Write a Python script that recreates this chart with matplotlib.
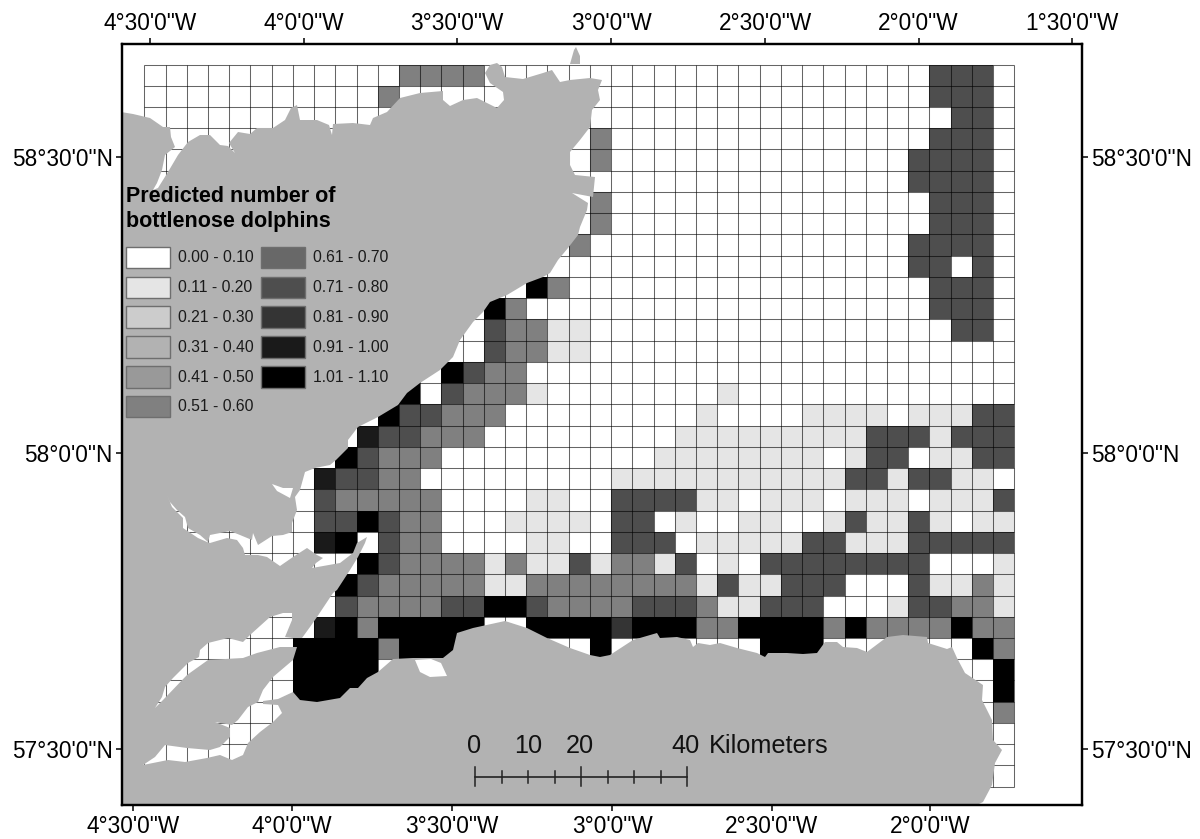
import matplotlib
matplotlib.use('Agg')
import matplotlib.pyplot as plt
import numpy as np
from matplotlib.colors import ListedColormap
from matplotlib.patches import Polygon, Rectangle

plt.rcParams['font.family'] = ['Liberation Sans', 'DejaVu Sans']

# predicted class per grid cell, one char per column (a = class 10)
cell_rows = [
    "0000000000 0055550000 0000000000 0000000777 0",
    "0000000000 0500000000 0000000000 0000000777 0",
    "0000000000 0000000000 0000000000 0000000077 0",
    "0000000000 0000000000 0500000000 0000000777 0",
    "0000000000 0000000000 0500000000 0000007777 0",
    "0000000000 0000000000 0000000000 0000007777 0",
    "0000000000 0000000000 0500000000 0000000777 0",
    "0000000000 0000000000 0500000000 0000000777 0",
    "0000000000 0000000000 5000000000 0000007777 0",
    "0000000000 0000000000 0000000000 0000007707 0",
    "0000000000 00000000a5 0000000000 0000000777 0",
    "0000000000 000000a500 0000000000 0000000777 0",
    "0000000000 0000007551 1000000000 0000000077 0",
    "0000000000 0000007551 1000000000 0000000000 0",
    "0000000000 0000a75500 0000000000 0000000000 0",
    "0000000000 00a0755510 0000000100 0000000000 0",
    "0000000000 0a77555000 0000001000 0111101117 7",
    "0000000000 9775550000 0000011111 1111777177 7",
    "000000000a 7555000000 0000111111 1101770117 7",
    "0000000097 7550000000 0011111111 1117717711 0",
    "0000000075 5555000011 0077771101 1101110111 7",
    "0000000077 a755000111 1077010011 0017117101 1",
    "000000009a 0755000011 0077701111 1771117777 7",
    "0000000000 a755551511 7155170107 7777777000 1",
    "000000000a 7555551155 5555551711 7770007115 1",
    "0000000007 555577aa75 5557775117 7700017755 1",
    "000000009a 5aaaaa00aa aa8aaa55aa aa5a5555a5 5",
    "0000000aaa a5aaaa0000 0a0000000a aa0000000a 5",
    "0000000aaa a000000000 0000000000 0000000000 a",
    "0000000aaa a000000000 0000000000 0000000000 a",
    "0000000000 0000000000 0000000000 0000000000 5",
    "0000000000 0000000000 0000000000 0000000000 0",
    "0000000000 0000000000 0000000000 0000000000 0",
    "0000000000 0000000000 0000000000 0000000000 0",
]

class_labels = ['0.00 - 0.10', '0.11 - 0.20', '0.21 - 0.30', '0.31 - 0.40', '0.41 - 0.50', '0.51 - 0.60',
                '0.61 - 0.70', '0.71 - 0.80', '0.81 - 0.90', '0.91 - 1.00', '1.01 - 1.10']
class_colors = ['#ffffff', '#e5e5e5', '#cccccc', '#b2b2b2', '#999999', '#808080',
                '#686868', '#4e4e4e', '#343434', '#1a1a1a', '#000000']

bottom_ticks = [133, 292, 452, 612, 772, 930]
bottom_labels = ['4°30\'0"W', '4°0\'0"W', '3°30\'0"W', '3°0\'0"W', '2°30\'0"W', '2°0\'0"W']
top_ticks = [150, 303.5, 457, 611, 765, 918.5, 1072]
top_labels = ['4°30\'0"W', '4°0\'0"W', '3°30\'0"W', '3°0\'0"W', '2°30\'0"W', '2°0\'0"W', '1°30\'0"W']
lat_ticks = [157, 453, 749]
lat_labels = ['58°30\'0"N', '58°0\'0"N', '57°30\'0"N']

# coastline, in map units
land_coast = [
    (121, 112), (133, 114), (150, 118), (163, 127), (170, 127), (171, 137), (175, 147), (165, 155), (162, 170),
    (157, 183), (153, 190), (158, 188), (168, 172), (178, 155), (188, 142), (200, 135), (210, 135), (220, 145),
    (228, 146), (235, 153), (229, 143), (238, 132), (250, 134), (257, 128), (273, 128), (285, 120), (291, 108),
    (297, 105), (300, 120), (317, 120), (329, 125), (332, 135), (333, 124), (353, 123), (370, 125), (373, 118),
    (387, 112), (400, 98), (420, 93), (443, 91), (443, 100), (450, 106), (463, 100), (477, 98), (497, 108),
    (504, 100), (503, 92), (490, 83), (485, 73), (490, 65), (497, 63), (502, 67), (505, 77), (523, 79), (543, 73),
    (552, 70), (560, 82), (570, 80), (590, 78), (602, 80), (598, 90), (600, 100), (592, 110), (590, 127),
    (580, 140), (570, 152), (570, 165), (575, 175), (595, 177), (593, 197), (572, 193), (588, 203), (587, 210),
    (580, 227), (578, 235), (568, 248), (558, 260), (550, 273), (543, 277), (527, 283), (507, 295), (490, 302),
    (483, 312), (473, 322), (460, 340), (453, 357), (440, 370), (420, 383), (407, 393), (398, 405), (378, 417),
    (358, 427), (348, 440), (348, 448), (336, 460), (330, 465), (315, 468), (305, 472), (300, 490), (295, 497),
    (297, 510), (292, 523), (292, 532), (283, 535), (272, 536), (258, 545), (253, 533), (252, 540), (240, 535),
    (230, 531), (210, 535), (208, 542), (200, 535), (188, 528), (185, 517), (177, 510), (170, 502), (167, 495),
    (172, 507), (183, 518), (183, 528), (198, 538), (207, 542), (210, 543), (227, 538), (237, 540), (243, 548),
    (245, 555), (258, 555), (267, 557), (280, 566), (293, 557), (307, 548), (317, 555), (323, 558), (316, 563),
    (312, 568), (340, 563), (353, 553), (357, 543), (367, 537), (365, 543), (358, 557), (350, 570), (337, 590),
    (333, 593), (317, 617), (310, 627), (302, 638), (293, 638), (285, 637), (292, 620), (292, 613), (283, 613),
    (270, 617), (250, 635), (243, 642), (228, 638), (208, 643), (200, 650), (199, 657), (188, 663), (173, 678),
    (165, 687), (162, 697), (155, 708), (163, 700), (187, 675), (208, 660), (243, 658), (257, 653), (280, 647),
    (297, 647), (293, 660), (273, 677), (263, 690), (258, 702), (248, 707), (238, 720), (232, 725), (215, 722),
    (230, 728), (230, 737), (220, 747), (210, 750), (187, 748), (165, 745), (155, 757), (143, 765), (168, 760),
    (185, 762), (207, 758), (220, 755), (232, 760), (243, 755), (248, 743), (260, 732), (273, 722), (282, 713),
    (278, 705), (263, 704), (263, 701), (278, 699), (293, 692), (300, 700), (317, 702), (340, 698), (350, 688),
    (358, 688), (367, 678), (378, 672), (393, 659), (413, 658), (443, 658), (453, 650), (457, 633), (473, 628),
    (505, 621), (527, 628), (547, 638), (570, 648), (590, 655), (600, 657), (610, 655), (633, 640), (657, 633),
    (660, 638), (677, 637), (690, 640), (693, 647), (698, 643), (710, 645), (720, 643), (737, 648), (757, 653),
    (765, 657), (768, 653), (787, 653), (803, 654), (817, 653), (825, 642), (837, 642), (843, 647), (857, 648),
    (867, 652), (887, 637), (903, 635), (927, 637), (928, 643), (947, 649), (952, 647), (957, 658), (965, 673),
    (983, 685), (982, 700), (992, 720), (993, 740), (1002, 750), (995, 763), (992, 785), (983, 802), (977, 805),
    (121, 805),
]
land_islet = [(570, 64), (574, 50), (576, 47), (580, 56), (580, 64)]
inlet_north = [(272, 484), (283, 488), (293, 488), (290, 498), (277, 491)]
inlet_south = [(415, 660), (420, 672), (430, 677), (447, 676), (441, 663), (431, 659)]

fig = plt.figure(figsize=(12, 8.39), dpi=100)
ax = fig.add_axes([121.7 / 1200, 34 / 839, 960.3 / 1200, 761 / 839])
ax.set_xlim(121.7, 1082)
ax.set_ylim(805, 44)

# grid cells
cells = np.array([[int(ch, 16) for ch in row.replace(' ', '')] for row in cell_rows])
x_edges = 144.3 + 21.22 * np.arange(cells.shape[1] + 1)
y_edges = 64.5 + 21.24 * np.arange(cells.shape[0] + 1)
ax.pcolormesh(x_edges, y_edges, cells, cmap=ListedColormap(class_colors), vmin=-0.5, vmax=10.5, zorder=1)
ax.vlines(x_edges, y_edges[0], y_edges[-1], color='black', alpha=0.6, lw=0.75, zorder=1.5)
ax.hlines(y_edges, x_edges[0], x_edges[-1], color='black', alpha=0.6, lw=0.75, zorder=1.5)

# land
ax.add_patch(Polygon(land_coast, closed=True, fc='#b2b2b2', ec='none', zorder=2))
ax.add_patch(Polygon(land_islet, closed=True, fc='#b2b2b2', ec='none', zorder=2))
ax.add_patch(Polygon(inlet_north, closed=True, fc='white', ec='none', zorder=3))
ax.add_patch(Polygon(inlet_south, closed=True, fc='white', ec='none', zorder=3))

# legend
ax.text(126, 209, 'Predicted number of\nbottlenose dolphins', fontsize=15.5, fontweight='bold',
        va='center', ha='left', linespacing=1.3, zorder=4)
legend_y = [246.7, 276.5, 306, 336, 366, 395.5]
for i, (label, color) in enumerate(zip(class_labels, class_colors)):
    col, row = (0, i) if i < 6 else (1, i - 6)
    x0 = 125.7 + col * 135.3
    ax.add_patch(Rectangle((x0, legend_y[row]), 44.3, 21.7, fc=color, ec='#6e6e6e', lw=1, zorder=4))
    ax.text(x0 + 52, legend_y[row] + 11, label, fontsize=11.3, color='#1a1a1a', va='center', ha='left', zorder=4)

# scale bar
scale_x = np.linspace(475, 687, 9)
ax.plot([475, 687], [776.7, 776.7], color='#222222', lw=1.2, zorder=4)
for i, x in enumerate(scale_x):
    half = 9.5 if i in (0, 4, 8) else 6
    ax.plot([x, x], [776.7 - half, 776.7 + half], color='#222222', lw=1.1, zorder=4)
for x, label in zip([474, 528, 580, 686], ['0', '10', '20', '40']):
    ax.text(x, 746, label, fontsize=18.2, color='#111111', ha='center', va='center', zorder=4)
ax.text(709, 746, 'Kilometers', fontsize=18.2, color='#111111', ha='left', va='center', zorder=4)

# frame and ticks
for spine in ax.spines.values():
    spine.set_linewidth(1.6)
ax.set_xticks(bottom_ticks)
ax.set_xticklabels(bottom_labels)
ax.set_yticks(lat_ticks)
ax.set_yticklabels(lat_labels)
ax.tick_params(axis='x', length=4.5, width=1.1, labelsize=16.3, pad=3)
ax.tick_params(axis='y', length=4.5, width=1.1, labelsize=16.3, pad=2, right=True, labelright=True)

top = ax.twiny()
top.set_xlim(ax.get_xlim())
top.set_xticks(top_ticks)
top.set_xticklabels(top_labels)
top.tick_params(axis='x', length=4.5, width=1.1, labelsize=16.3, pad=2)
for spine in top.spines.values():
    spine.set_linewidth(1.6)

plt.savefig('out.png', dpi=100)
